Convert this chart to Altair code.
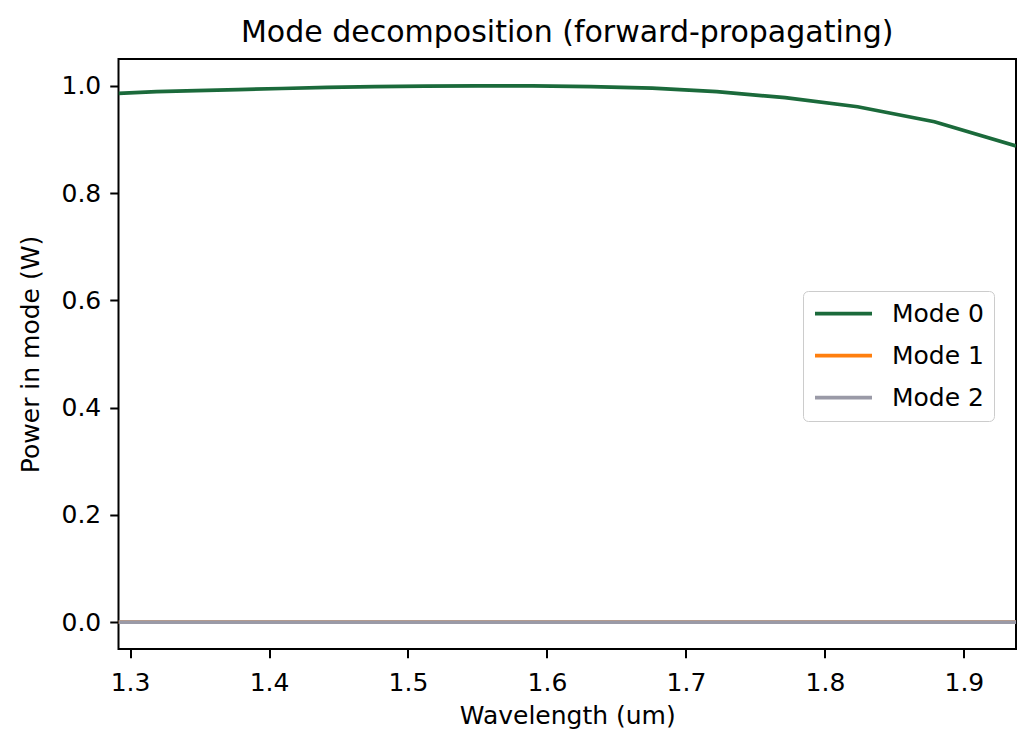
import altair as alt
import pandas as pd

wavelength = [1.2917, 1.3191, 1.3478, 1.3778, 1.4091, 1.4419, 1.4762, 1.5122, 1.5500,
              1.5897, 1.6316, 1.6757, 1.7222, 1.7714, 1.8235, 1.8788, 1.9375]
mode0 = [0.986, 0.989, 0.991, 0.993, 0.995, 0.997, 0.9985, 0.9995, 1.000,
         0.9998, 0.9985, 0.9955, 0.989, 0.978, 0.961, 0.933, 0.888]
mode1 = [0.0, 0.0, 0.0, 0.0, 0.0, 0.0, 0.0, 0.0, 0.0,
         0.0, 0.0, 0.0, 0.0, 0.0, 0.0, 0.0, 0.0]
mode2 = [0.0, 0.0, 0.0, 0.0, 0.0, 0.0, 0.0, 0.0, 0.0,
         0.0, 0.0, 0.0, 0.0, 0.0, 0.0, 0.0, 0.0]
mode_names = ["Mode 0", "Mode 1", "Mode 2"]
mode_colors = ["#1b6a3b", "#ff7f0e", "#9a9aa7"]
x_ticks = [1.3, 1.4, 1.5, 1.6, 1.7, 1.8, 1.9]
y_ticks = [0.0, 0.2, 0.4, 0.6, 0.8, 1.0]

rows = []
for name, vals in zip(mode_names, [mode0, mode1, mode2]):
    for i, (w, v) in enumerate(zip(wavelength, vals)):
        rows.append({"wavelength": w, "power": v, "mode": name, "idx": i})
df = pd.DataFrame(rows)

FONT = "DejaVu Sans"

chart = alt.Chart(df).mark_line(strokeWidth=3.75, clip=True).encode(
    x=alt.X("wavelength:Q",
            scale=alt.Scale(domain=[1.2917, 1.9375], nice=False, zero=False),
            axis=alt.Axis(title="Wavelength (um)", values=x_ticks, format=".1f",
                          grid=False, domain=False, tickColor="black", tickWidth=2,
                          tickSize=8.75, labelPadding=13, labelFontSize=25,
                          labelFont=FONT, labelColor="black", titleFont=FONT,
                          titleFontSize=25, titleFontWeight="normal",
                          titleColor="black", titlePadding=8)),
    y=alt.Y("power:Q",
            scale=alt.Scale(domain=[-0.05, 1.05], nice=False, zero=False),
            axis=alt.Axis(title="Power in mode (W)", values=y_ticks, format=".1f",
                          grid=False, domain=False, tickColor="black", tickWidth=2,
                          tickSize=8.75, labelPadding=9, labelFontSize=25,
                          labelFont=FONT, labelColor="black", titleFont=FONT,
                          titleFontSize=25, titleFontWeight="normal",
                          titleColor="black", titlePadding=17)),
    color=alt.Color("mode:N",
                    scale=alt.Scale(domain=mode_names, range=mode_colors),
                    legend=alt.Legend(title=None, orient="none", legendX=684.5,
                                      legendY=232, symbolType="stroke",
                                      symbolSize=3249, symbolStrokeWidth=3.75,
                                      clipHeight=25, rowPadding=16,
                                      labelOffset=18, labelFontSize=25,
                                      labelFont=FONT, labelColor="black",
                                      padding=10, strokeColor="#cccccc",
                                      fillColor="rgba(255,255,255,0.8)",
                                      cornerRadius=5)),
    order=alt.Order("idx:Q"),
).properties(
    width=897.5,
    height=590,
    background="white",
    title=alt.TitleParams("Mode decomposition (forward-propagating)", fontSize=30,
                          font=FONT, fontWeight="normal", anchor="middle",
                          color="black", offset=10, dy=23, baseline="alphabetic"),
    autosize=alt.AutoSizeParams(type="none"),
    padding={"left": 110.5, "top": 51, "right": 6, "bottom": 90},
).configure_view(
    stroke="black", strokeWidth=2
)

chart.save("out.html", embed_options={"renderer": "svg", "actions": False})
